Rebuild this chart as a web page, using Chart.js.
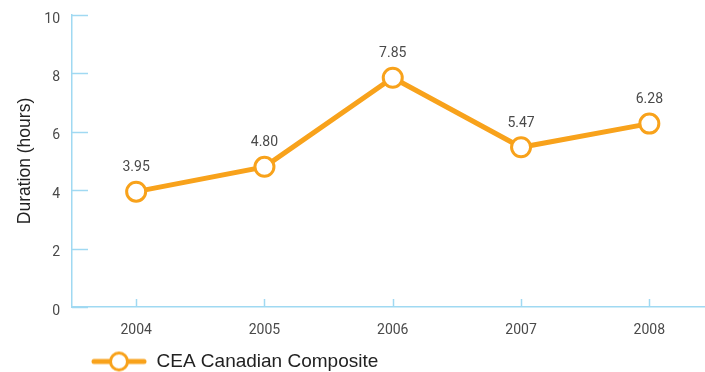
<!DOCTYPE html>
<html><head><meta charset="utf-8">
<script src="https://cdn.jsdelivr.net/npm/chart.js@4/dist/chart.umd.min.js"></script>
<style>
html,body{margin:0;padding:0;background:#fff;overflow:hidden;}
#wrap{width:726px;height:372px;position:relative;}
</style></head>
<body><div id="wrap"><canvas id="c" width="726" height="372" style="width:726px;height:372px;display:block"></canvas></div>
<script>
const categories = ['2004','2005','2006','2007','2008'];
const seriesName = 'CEA Canadian Composite';
const durationHours = [3.95, 4.80, 7.85, 5.47, 6.28];
const yTicks = [0, 2, 4, 6, 8, 10];

const ORANGE = '#f8a21b';
const AXIS = '#a0d9f2';
const TICKTXT = '#4a4a4a';

// legend symbol: line with open circle
const sym = document.createElement('canvas');
sym.width = 133; sym.height = 24;
(function(){
  const g = sym.getContext('2d');
  g.strokeStyle = ORANGE; g.lineWidth = 5; g.lineCap = 'round';
  g.beginPath(); g.moveTo(80, 12); g.lineTo(130, 12); g.stroke();
  g.beginPath(); g.arc(105, 12, 8.5, 0, Math.PI*2);
  g.fillStyle = '#fff'; g.fill(); g.lineWidth = 3; g.stroke();
})();

const innerTicks = {
  id: 'innerTicks',
  afterInit(chart) {
    const lg = chart.legend;
    if (lg) {
      const orig = lg.fit.bind(lg);
      lg.fit = function() { orig(); this.height = 34; };
    }
  },
  beforeDatasetsDraw(chart) {
    const {ctx, scales:{x, y}, chartArea} = chart;
    ctx.save();
    ctx.strokeStyle = AXIS; ctx.lineWidth = 1.5;
    yTicks.forEach(v => {
      const py = Math.round(y.getPixelForValue(v)) + 0.5;
      ctx.beginPath(); ctx.moveTo(chartArea.left, py); ctx.lineTo(chartArea.left + 16, py); ctx.stroke();
    });
    categories.forEach((c, i) => {
      const px = Math.round(x.getPixelForValue(i)) + 0.5;
      ctx.beginPath(); ctx.moveTo(px, chartArea.bottom); ctx.lineTo(px, chartArea.bottom - 8); ctx.stroke();
    });
    ctx.restore();
  },
  afterDatasetsDraw(chart) {
    const {ctx} = chart;
    const meta = chart.getDatasetMeta(0);
    ctx.save();
    ctx.font = '14px Roboto';
    ctx.fillStyle = TICKTXT;
    ctx.textAlign = 'center';
    ctx.textBaseline = 'bottom';
    meta.data.forEach((pt, i) => {
      ctx.fillText(durationHours[i].toFixed(2), pt.x, pt.y - 17);
    });
    ctx.restore();
  }
};

new Chart(document.getElementById('c'), {
  type: 'line',
  data: {
    labels: categories,
    datasets: [{
      label: seriesName,
      data: durationHours,
      borderColor: ORANGE,
      borderWidth: 5,
      backgroundColor: '#fff',
      pointBackgroundColor: '#fff',
      pointBorderColor: ORANGE,
      pointBorderWidth: 3,
      pointRadius: 9.5,
      pointHoverRadius: 9.5,
      tension: 0,
      fill: false
    }]
  },
  options: {
    responsive: false,
    animation: false,
    layout: { padding: { top: 15, right: 0, left: 0, bottom: 0 } },
    plugins: {
      tooltip: { enabled: false },
      legend: {
        position: 'bottom',
        align: 'start',
        labels: {
          usePointStyle: true,
          pointStyle: sym,
          pointStyleWidth: 133,
          padding: 14,
          color: '#222',
          font: { family: 'Liberation Sans, Arial', size: 19 }
        }
      }
    },
    scales: {
      x: {
        offset: true,
        afterFit(s) { s.height = 31; s.paddingLeft = 0; s.paddingRight = 0; },
        grid: { display: false, drawTicks: false },
        border: { display: true, color: AXIS, width: 1.5 },
        ticks: { color: TICKTXT, font: { family: 'Roboto', size: 14 }, padding: 15 }
      },
      y: {
        min: 0, max: 10,
        afterBuildTicks(s) { s.ticks = yTicks.map(v => ({ value: v })); },
        afterFit(s) { s.width = 72; s.paddingTop = 0; s.paddingBottom = 0; },
        grid: { display: false, drawTicks: false },
        border: { display: true, color: AXIS, width: 1.5 },
        ticks: { color: TICKTXT, font: { family: 'Roboto', size: 14 }, padding: 12, labelOffset: 4 },
        title: {
          display: true,
          text: 'Duration (hours)',
          color: '#222',
          font: { family: 'Liberation Sans, Arial', size: 17.5 },
          padding: { top: 15, bottom: 0 }
        }
      }
    }
  },
  plugins: [innerTicks]
});
</script></body></html>
